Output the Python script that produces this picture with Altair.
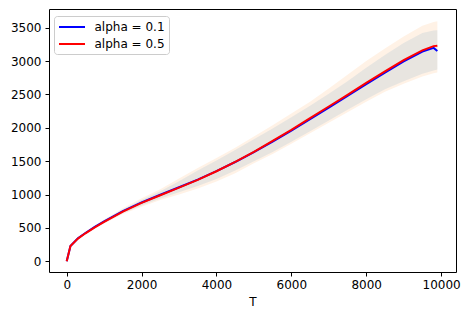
import altair as alt
import pandas as pd

T = [0, 100, 300, 500, 750, 1000, 1500, 2000, 2500, 3000, 3500, 4000, 4500, 5000, 5500,
     6000, 6500, 7000, 7500, 8000, 8500, 9000, 9500, 9800, 9900]

mean_a01 = [0, 228, 345, 425, 516, 597, 752, 882, 998, 1110, 1225, 1352, 1488, 1635, 1795,
            1958, 2130, 2303, 2478, 2655, 2828, 2997, 3143, 3198, 3153]
mean_a05 = [0, 230, 340, 420, 510, 590, 745, 875, 990, 1105, 1220, 1350, 1490, 1640, 1805,
            1970, 2145, 2320, 2495, 2675, 2845, 3015, 3160, 3225, 3232]

# band for alpha = 0.1 (narrower, blue tint)
lo_a01 = [0, 225, 335, 412, 498, 575, 722, 838, 942, 1035, 1130, 1235, 1360, 1500, 1640,
          1790, 1950, 2110, 2270, 2430, 2580, 2700, 2810, 2860, 2874]
hi_a01 = [0, 235, 350, 435, 528, 615, 778, 920, 1050, 1200, 1360, 1510, 1670, 1830, 1990,
          2160, 2330, 2510, 2700, 2900, 3090, 3270, 3420, 3460, 3463]
# band for alpha = 0.5 (wider, orange tint)
lo_a05 = [0, 220, 330, 405, 490, 565, 708, 818, 918, 1000, 1090, 1195, 1320, 1470, 1610,
          1760, 1920, 2075, 2235, 2390, 2540, 2660, 2770, 2820, 2830]
hi_a05 = [0, 240, 355, 442, 538, 628, 795, 945, 1080, 1240, 1400, 1550, 1700, 1870, 2040,
          2215, 2390, 2590, 2795, 3000, 3190, 3370, 3530, 3585, 3597]

x_ticks = [0, 2000, 4000, 6000, 8000, 10000]
y_ticks = [0, 500, 1000, 1500, 2000, 2500, 3000, 3500]
labels = ["alpha = 0.1", "alpha = 0.5"]

band_df = pd.DataFrame({
    "T": T * 2,
    "lo": lo_a01 + lo_a05,
    "hi": hi_a01 + hi_a05,
    "series": [labels[0]] * len(T) + [labels[1]] * len(T),
})
line_df = pd.DataFrame({
    "T": T * 2,
    "value": mean_a01 + mean_a05,
    "series": [labels[0]] * len(T) + [labels[1]] * len(T),
    "order": [0] * len(T) + [1] * len(T),
})

xscale = alt.Scale(domain=[-473, 10398], nice=False, zero=False)
yscale = alt.Scale(domain=[-160, 3781], nice=False, zero=False)

xaxis = alt.Axis(values=x_ticks, grid=False, domain=False,
                 tickSize=4, tickColor="black", labelPadding=3, titlePadding=6,
                 labelFontSize=12, titleFontSize=12, labelColor="black",
                 titleColor="black", titleFontWeight="normal", format="d",
                 labelOverlap=False)
yaxis = alt.Axis(values=y_ticks, grid=False, tickCount=8,
                 domain=False, tickSize=4, tickColor="black", labelPadding=4,
                 labelFontSize=12, labelColor="black", title=None, format="d",
                 labelOverlap=False)

X = alt.X("T:Q", scale=xscale, axis=xaxis, title="T")

band_orange = alt.Chart(band_df).transform_filter(
    alt.datum.series == labels[1]
).mark_area(color="#ff7f0e", opacity=0.1).encode(
    x=X,
    y=alt.Y("lo:Q", scale=yscale, axis=yaxis),
    y2="hi:Q",
)
band_blue = alt.Chart(band_df).transform_filter(
    alt.datum.series == labels[0]
).mark_area(color="#1f77b4", opacity=0.1).encode(
    x=X,
    y=alt.Y("lo:Q", scale=yscale, axis=yaxis),
    y2="hi:Q",
)

lines = alt.Chart(line_df).mark_line(strokeWidth=2).encode(
    x=X,
    y=alt.Y("value:Q", scale=yscale, axis=yaxis),
    color=alt.Color("series:N",
                    scale=alt.Scale(domain=labels, range=["blue", "red"]),
                    legend=alt.Legend(title=None, orient="none", legendX=5, legendY=7,
                                      symbolType="M-2,0L2,0", symbolSize=169,
                                      symbolStrokeWidth=2, symbolOffset=7,
                                      labelFontSize=12, labelOffset=15,
                                      rowPadding=3, padding=3.5,
                                      strokeColor="#cccccc", cornerRadius=3,
                                      fillColor="white", labelColor="black")),
    detail="order:O",
)

chart = alt.layer(band_orange, band_blue, lines).properties(
    width=407, height=263,
    padding={"left": 41, "top": 1, "right": 5, "bottom": 38},
    autosize=alt.AutoSizeParams(type="none"),
).configure(font="DejaVu Sans").configure_view(
    stroke="black", strokeWidth=1
)

chart.save("out.html", embed_options={"renderer": "svg", "actions": False})
